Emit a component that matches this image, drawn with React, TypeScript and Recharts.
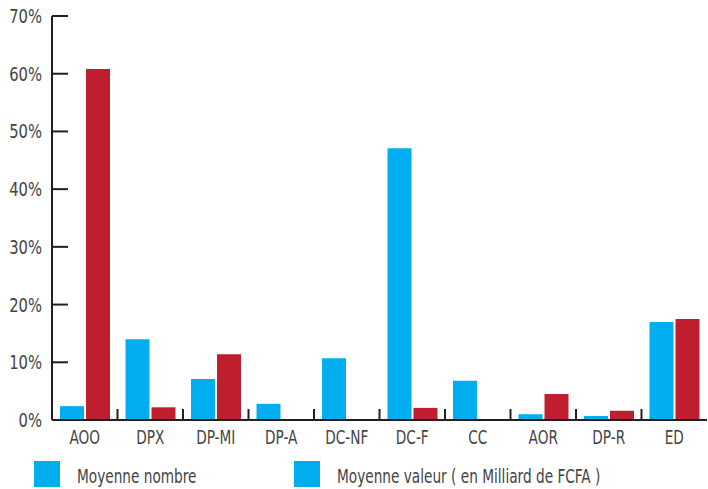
import React from "react";
import { BarChart, Bar, XAxis, YAxis, Legend } from "recharts";

const categories = ["AOO", "DPX", "DP-MI", "DP-A", "DC-NF", "DC-F", "CC", "AOR", "DP-R", "ED"];
const moyenneNombre = [2.4, 14.0, 7.1, 2.8, 10.7, 47.1, 6.8, 1.0, 0.7, 17.0];
const moyenneValeur = [60.8, 2.2, 11.4, 0, 0, 2.1, 0, 4.5, 1.6, 17.5];
const yTicks = [0, 10, 20, 30, 40, 50, 60, 70];

const data = categories.map((name, i) => ({
  name,
  nombre: moyenneNombre[i],
  valeur: moyenneValeur[i],
}));

const W = 708;
const H = 489;
const AXIS_W = 52;
const RIGHT = 1;
const BAND = (W - AXIS_W - RIGHT) / categories.length;
// condensed look: DejaVu Sans Condensed squeezed a bit more
const FONT = "'DejaVu Sans Condensed', 'Liberation Sans Narrow', sans-serif";
const BLUE = "#00AEEF";
const RED = "#BE1E2D";
const INK = "#231F20";
const TEXT = "#444444";

const XTick = ({ x, y, payload, index }: any) => (
  <g>
    {index < categories.length - 1 && (
      <line x1={x + BAND / 2} x2={x + BAND / 2} y1={y - 11} y2={y} stroke={INK} strokeWidth={2} />
    )}
    <text
      transform={`translate(${x} ${y + 24}) scale(0.76 1)`}
      textAnchor="middle"
      fill={TEXT}
      fontSize={20}
      fontFamily={FONT}
    >
      {payload.value}
    </text>
  </g>
);

const YTick = ({ x, y, payload }: any) => (
  <g>
    <line x1={x + 10} x2={x + 26} y1={y} y2={y} stroke={INK} strokeWidth={2} />
    <text
      transform={`translate(${x} ${y + 7}) scale(0.82 1)`}
      textAnchor="end"
      fill={TEXT}
      fontSize={20}
      fontFamily={FONT}
    >
      {payload.value}%
    </text>
  </g>
);

const label = (left: number, text: string) => (
  <div
    style={{
      position: "absolute",
      left,
      top: 4,
      lineHeight: "22px",
      whiteSpace: "nowrap",
      transform: "scaleX(0.76)",
      transformOrigin: "left center",
    }}
  >
    {text}
  </div>
);

const renderLegend = () => (
  <div style={{ position: "relative", width: W, height: 28, fontFamily: FONT, fontSize: 20, color: TEXT }}>
    <div style={{ position: "absolute", left: 34, top: 0, width: 26, height: 26, background: BLUE }} />
    {label(77, "Moyenne nombre")}
    <div style={{ position: "absolute", left: 294, top: 0, width: 26, height: 26, background: BLUE }} />
    {label(337, "Moyenne valeur ( en Milliard de FCFA )")}
  </div>
);

export default function App() {
  return (
    <div style={{ position: "absolute", left: 0, top: 0, width: W, height: H, background: "#fff" }}>
      <BarChart
        width={W}
        height={H}
        data={data}
        margin={{ top: 16, right: RIGHT, left: 0, bottom: 0 }}
        barCategoryGap={8}
        barGap={2}
      >
        <XAxis
          dataKey="name"
          height={41}
          interval={0}
          tickSize={0}
          tickMargin={0}
          tickLine={false}
          axisLine={{ stroke: INK, strokeWidth: 2 }}
          tick={<XTick />}
        />
        <YAxis
          width={AXIS_W}
          domain={[0, 70]}
          ticks={yTicks}
          interval={0}
          tickSize={0}
          tickMargin={10}
          tickLine={false}
          axisLine={{ stroke: INK, strokeWidth: 2 }}
          tick={<YTick />}
        />
        <Legend verticalAlign="bottom" height={28} content={renderLegend} wrapperStyle={{ left: 0, width: W }} />
        <Bar dataKey="nombre" fill={BLUE} isAnimationActive={false} />
        <Bar dataKey="valeur" fill={RED} isAnimationActive={false} />
      </BarChart>
    </div>
  );
}
